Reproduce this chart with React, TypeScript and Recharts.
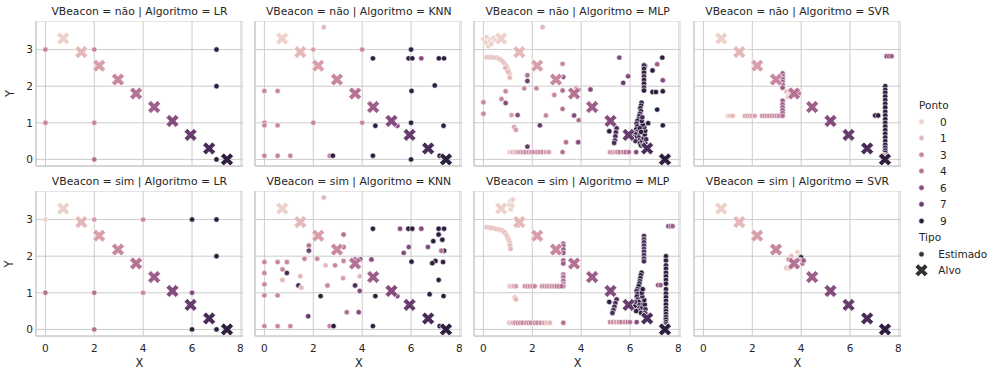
import { ScatterChart, Scatter, XAxis, YAxis, CartesianGrid } from "recharts";

type Pt = [number, number, number]; // x, y, ponto

// Alvo (target) positions, one per Ponto 0..9
const TARGET_X = [0.73, 1.47, 2.2, 2.97, 3.71, 4.45, 5.2, 5.94, 6.7, 7.43];
const TARGET_Y = [3.3, 2.93, 2.56, 2.18, 1.8, 1.43, 1.05, 0.67, 0.3, 0.0];

const X_TICKS = [0, 2, 4, 6, 8];
const Y_TICKS = [0, 1, 2, 3];
const LEGEND_PONTO = [0, 1, 3, 4, 6, 7, 9];

const naoLR: Pt[] = [
  [0, 3, 3], [0, 1, 3], [2, 3, 3], [2, 1, 3], [2, 0, 4], [7, 3, 9], [7, 2, 9], [7, 0, 9],
];

const naoKNN: Pt[] = [
  [2.43, 3.61, 1], [2, 3, 2], [4, 3, 3], [6, 3, 9], [4.44, 2.76, 9], [5.9, 2.76, 9], [6.05, 2.76, 9],
  [6.42, 2.76, 6], [7.14, 2.76, 9], [7.35, 2.76, 9], [0, 1.87, 3], [0.54, 1.87, 3], [6.02, 1.87, 9],
  [6.97, 2.02, 9], [0, 1.0, 3], [0, 0.93, 3], [0.54, 0.93, 3], [2, 1, 3], [4, 1, 3], [4.54, 0.92, 9],
  [5.44, 0.92, 6], [6, 1, 9], [7.33, 0.92, 9], [0, 0.1, 3], [0.54, 0.1, 3], [1.06, 0.1, 3],
  [2.67, 0.1, 3], [2.8, 0.1, 9], [4.44, 0.1, 9], [6, 0, 9], [7.17, 0.1, 9],
];

const naoMLP: Pt[] = [
  [0.0, 3.29, 0], [0.14, 3.34, 0], [0.27, 3.27, 0], [0.41, 3.32, 0], [0.18, 3.21, 0], [0.2, 3.09, 0],
  [0.48, 3.25, 0], [0.08, 3.2, 0], [0.32, 3.15, 0],
  [0.14, 2.79, 1], [0.24, 2.79, 1], [0.34, 2.79, 1], [0.44, 2.78, 1], [0.54, 2.78, 1], [0.63, 2.75, 1],
  [0.72, 2.72, 1], [0.8, 2.67, 1], [0.88, 2.61, 1], [0.94, 2.55, 1], [0.99, 2.48, 1], [1.03, 2.41, 1],
  [1.06, 2.34, 1], [1.08, 2.23, 1], [1.0, 2.4, 1], [0.9, 2.5, 1],
  [2.42, 3.61, 1], [3.24, 2.61, 3], [1.8, 2.3, 4], [1.8, 2.14, 7], [3.27, 2.25, 5], [1.67, 1.94, 3],
  [2.17, 1.94, 3], [2.9, 1.76, 3], [3.24, 1.88, 4], [3.24, 1.38, 4], [3.9, 1.9, 4], [4.38, 1.91, 6],
  [0.91, 1.86, 3], [0.74, 1.65, 3], [0.91, 1.54, 6], [0, 1.56, 3], [0, 1.25, 3], [1.15, 1.21, 2],
  [1.4, 1.21, 6], [2.56, 1.2, 3], [3.71, 1.2, 6], [3.9, 1.07, 4], [2.31, 0.93, 7], [1.26, 0.88, 2],
  [1.33, 0.81, 2], [3.38, 0.47, 4], [3.88, 0.47, 6], [1.8, 0.35, 7], [3.24, 0.2, 4], [3.8, 1.95, 2],
  [1.08, 0.2, 1], [1.15, 0.2, 1], [1.22, 0.2, 2], [1.3, 0.2, 1], [1.38, 0.2, 2], [1.46, 0.2, 3],
  [1.55, 0.2, 3], [1.63, 0.2, 3], [1.72, 0.2, 3], [1.85, 0.2, 3], [1.95, 0.2, 3], [2.05, 0.2, 3],
  [2.2, 0.2, 3], [2.3, 0.2, 3], [2.42, 0.2, 3], [2.55, 0.2, 2], [2.68, 0.2, 2],
  [5.56, 2.78, 6], [7.32, 2.78, 9], [6.61, 2.55, 9], [7.11, 2.6, 5], [6.92, 2.43, 9], [5.92, 2.27, 6],
  [5.72, 2.09, 7],
  [6.57, 2.57, 8], [6.57, 2.47, 9], [6.57, 2.37, 9], [6.57, 2.27, 8], [6.57, 2.17, 9], [6.57, 2.07, 9],
  [6.57, 1.97, 8], [6.57, 1.88, 9],
  [7.34, 2.16, 6], [6.92, 1.84, 9], [7.06, 1.84, 9], [7.34, 1.86, 9], [7.11, 1.36, 9], [6.74, 0.99, 9],
  [7.34, 0.93, 9], [5.15, 0.77, 9],
  [5.45, 0.85, 8], [5.42, 0.74, 8], [5.4, 0.63, 8], [5.38, 0.52, 8], [5.35, 0.45, 8],
  [6.47, 1.55, 9], [6.45, 1.47, 9], [6.42, 1.4, 9], [6.44, 1.32, 9], [6.4, 1.25, 8], [6.38, 1.18, 9],
  [6.35, 1.1, 9], [6.3, 1.05, 9], [6.27, 0.98, 8], [6.3, 0.9, 9], [6.25, 0.82, 9], [6.28, 0.75, 8],
  [6.32, 0.68, 9], [6.35, 0.6, 9], [6.38, 0.52, 8], [6.4, 0.45, 9], [6.45, 0.38, 9], [6.5, 0.5, 9],
  [6.55, 0.58, 8], [6.6, 0.68, 9], [6.62, 0.78, 9], [6.58, 0.88, 8], [6.52, 0.95, 9], [6.48, 1.05, 9],
  [6.5, 1.15, 8], [6.55, 0.4, 9], [6.62, 0.45, 9], [6.66, 0.55, 8], [6.4, 0.85, 9], [6.45, 0.75, 9],
  [6.2, 0.7, 8], [6.18, 0.6, 9], [6.22, 0.5, 8], [6.0, 0.7, 7], [6.08, 0.62, 8],
  [5.18, 0.2, 3], [5.28, 0.2, 3], [5.38, 0.2, 2], [5.48, 0.2, 3], [5.58, 0.2, 4], [5.7, 0.2, 3],
  [5.82, 0.2, 4], [5.95, 0.2, 4], [6.25, 0.2, 6],
];

const naoSVR: Pt[] = [
  [1.0, 1.19, 0], [1.1, 1.19, 1], [1.2, 1.19, 1], [1.7, 1.19, 2], [1.8, 1.19, 2], [1.9, 1.19, 2],
  [2.0, 1.19, 2], [2.1, 1.19, 2], [2.4, 1.19, 3], [2.5, 1.19, 3], [2.6, 1.19, 3], [2.7, 1.19, 3],
  [2.8, 1.19, 3], [2.9, 1.19, 3], [3.0, 1.19, 3], [3.1, 1.19, 3],
  [3.24, 2.35, 5], [3.24, 2.27, 5], [3.24, 2.2, 5], [3.24, 2.12, 5], [3.24, 2.04, 5], [3.24, 1.96, 5],
  [3.24, 1.6, 5], [3.24, 1.5, 5], [3.24, 1.42, 5], [3.24, 1.34, 5], [3.24, 1.26, 5], [3.24, 1.19, 4],
  [3.4, 1.85, 1], [3.5, 1.78, 0], [3.55, 1.88, 2], [3.7, 1.82, 3], [3.8, 1.87, 4], [3.85, 1.75, 5],
  [3.45, 1.7, 0], [3.6, 1.9, 1], [3.9, 1.8, 4], [3.63, 1.75, 9],
  [7.5, 2.82, 6], [7.6, 2.82, 6], [7.7, 2.82, 5],
  [7.44, 2.0, 9], [7.44, 1.9, 9], [7.44, 1.82, 9], [7.44, 1.72, 9], [7.44, 1.62, 9], [7.44, 1.52, 9],
  [7.44, 1.42, 9], [7.44, 1.3, 9], [7.44, 1.2, 9], [7.44, 1.1, 9], [7.44, 1.0, 9], [7.44, 0.9, 9],
  [7.44, 0.8, 9], [7.44, 0.7, 9], [7.44, 0.6, 9], [7.44, 0.5, 9], [7.44, 0.4, 9], [7.44, 0.32, 9],
  [7.44, 0.25, 8], [7.44, 0.18, 9], [7.44, 0.12, 8], [7.44, 0.06, 9], [7.44, 0.02, 9],
  [7.03, 1.2, 9], [7.15, 1.2, 9], [7.3, 0.08, 3], [7.38, 0.12, 2],
];

const simLR: Pt[] = [
  [0, 3, 0], [2, 3, 2], [4, 3, 3], [6, 3, 9], [7, 3, 9], [7, 2, 9], [0, 1, 4], [2, 1, 4], [4, 1, 3],
  [6, 1, 6], [2, 0, 4], [6, 0, 9], [7, 0, 9],
];

const simKNN: Pt[] = [
  [2.43, 3.6, 1], [4.44, 2.75, 9], [5.55, 2.75, 6], [5.89, 2.75, 9], [6.05, 2.75, 9], [6.42, 2.75, 6],
  [7.13, 2.75, 9], [7.35, 2.75, 9], [7.13, 2.59, 9], [3.24, 2.59, 4], [6.91, 2.41, 9], [7.28, 2.45, 9],
  [5.91, 2.25, 6], [6.69, 2.25, 6], [1.82, 2.29, 4], [1.82, 2.15, 7], [3.24, 2.25, 4], [2.98, 2.17, 3],
  [7.35, 2.15, 9], [7.24, 2.15, 4], [5.7, 2.09, 6], [1.64, 1.93, 3], [2.16, 1.93, 3], [0, 1.84, 3],
  [0.54, 1.84, 3], [0.92, 1.84, 3], [3.24, 1.87, 3], [3.71, 1.91, 5], [3.92, 1.91, 7], [4.38, 1.91, 6],
  [6.02, 1.85, 9], [7.0, 1.87, 9], [7.31, 1.84, 9], [6.87, 1.81, 9], [2.89, 1.75, 3], [2.5, 1.75, 1],
  [0.74, 1.64, 3], [0.92, 1.54, 8], [0, 1.54, 3], [1.47, 1.45, 1], [3.9, 1.45, 1], [0.74, 1.35, 1],
  [3.22, 1.4, 2], [7.13, 1.35, 9], [0, 1.23, 3], [1.39, 1.2, 8], [1.51, 1.14, 1], [2.58, 1.2, 3],
  [3.71, 1.2, 8], [3.9, 1.05, 6], [0, 0.93, 3], [0.54, 0.93, 3], [2.3, 0.91, 9], [4.54, 0.91, 9],
  [5.44, 0.91, 6], [6.76, 0.96, 9], [7.33, 0.91, 9], [3.37, 0.47, 4], [3.86, 0.47, 6], [1.79, 0.36, 7],
  [0, 0.09, 3], [0.54, 0.09, 3], [1.06, 0.09, 3], [2.67, 0.09, 3], [2.83, 0.09, 9], [4.44, 0.09, 9],
  [7.17, 0.09, 9],
];

const simMLP: Pt[] = [
  [1.1, 3.5, 0], [1.15, 3.45, 0], [1.2, 3.55, 0], [1.1, 3.35, 0], [1.12, 3.28, 0], [1.05, 3.4, 0],
  [1.18, 3.38, 0], [1.36, 3.0, 4], [1.5, 2.91, 4], [1.42, 2.85, 3],
  [0.14, 2.79, 1], [0.24, 2.78, 1], [0.33, 2.77, 1], [0.44, 2.76, 1], [0.54, 2.74, 1], [0.64, 2.73, 1],
  [0.74, 2.71, 1], [0.82, 2.68, 1], [0.88, 2.64, 1], [0.94, 2.58, 1], [0.98, 2.53, 1], [1.02, 2.47, 1],
  [1.06, 2.41, 1], [1.08, 2.35, 1], [1.09, 2.29, 1], [1.11, 2.2, 1],
  [3.27, 2.34, 5], [3.27, 2.28, 5], [3.27, 2.18, 5], [3.27, 2.09, 5], [3.27, 1.88, 5], [3.27, 1.8, 5],
  [3.27, 1.5, 4], [3.27, 1.43, 4], [3.27, 1.33, 4], [3.27, 1.24, 4], [3.27, 1.18, 4],
  [1.08, 1.18, 1], [1.16, 1.18, 1], [1.25, 1.18, 2], [1.33, 1.18, 2], [1.7, 1.18, 3], [1.8, 1.18, 3],
  [1.9, 1.18, 3], [2.0, 1.18, 3], [2.1, 1.18, 3], [2.4, 1.18, 3], [2.5, 1.18, 3], [2.6, 1.18, 3],
  [2.7, 1.18, 3], [2.8, 1.18, 3], [2.9, 1.18, 3], [3.0, 1.18, 4], [3.1, 1.18, 4], [3.2, 1.18, 4],
  [1.29, 0.87, 1], [1.33, 0.82, 1],
  [1.06, 0.18, 1], [1.14, 0.18, 1], [1.22, 0.18, 2], [1.3, 0.18, 3], [1.4, 0.18, 3], [1.5, 0.18, 3],
  [1.6, 0.18, 3], [1.75, 0.18, 3], [1.85, 0.18, 3], [1.95, 0.18, 3], [2.1, 0.18, 3], [2.2, 0.18, 3],
  [2.35, 0.18, 3], [2.48, 0.18, 2], [2.6, 0.18, 1], [2.72, 0.18, 1], [3.27, 0.18, 4],
  [7.57, 2.82, 6], [7.67, 2.82, 6], [7.74, 2.82, 5],
  [6.57, 2.55, 8], [6.57, 2.46, 8], [6.57, 2.38, 8], [6.57, 2.29, 8], [6.57, 2.2, 8], [6.57, 2.12, 8],
  [6.57, 2.03, 8], [6.57, 1.94, 8], [6.57, 1.86, 8],
  [7.47, 2.0, 9], [7.47, 1.88, 9], [7.47, 1.75, 9], [7.47, 1.66, 9], [7.47, 1.55, 9], [7.47, 1.45, 9],
  [7.47, 1.35, 9], [7.47, 1.25, 9], [7.47, 1.1, 9], [7.47, 0.98, 9], [7.47, 0.88, 9], [7.47, 0.78, 9],
  [7.47, 0.68, 9], [7.47, 0.58, 9], [7.47, 0.5, 9], [7.47, 0.42, 9], [7.47, 0.34, 9], [7.47, 0.27, 9],
  [7.47, 0.2, 9], [7.47, 0.14, 9], [7.47, 0.08, 9], [7.47, 0.04, 9],
  [7.15, 1.21, 6], [7.25, 1.21, 5],
  [6.47, 1.55, 9], [6.44, 1.48, 9], [6.42, 1.4, 9], [6.4, 1.32, 8], [6.38, 1.25, 9], [6.35, 1.18, 9],
  [6.3, 1.1, 9], [6.27, 1.05, 8], [6.3, 0.97, 9], [6.28, 0.9, 9], [6.32, 0.82, 8], [6.35, 0.75, 9],
  [6.38, 0.66, 9], [6.38, 0.59, 8], [6.42, 0.52, 9], [6.45, 0.45, 9], [6.5, 0.6, 8], [6.55, 0.7, 9],
  [6.6, 0.68, 9], [6.63, 0.55, 8], [6.66, 0.41, 9], [6.58, 0.8, 9], [6.5, 0.9, 8], [6.48, 1.0, 9],
  [6.52, 1.1, 9], [6.2, 0.75, 8], [6.18, 0.62, 9], [6.25, 0.5, 9], [6.6, 0.45, 8], [6.0, 0.7, 7],
  [5.15, 0.75, 9], [5.45, 0.82, 8], [5.4, 0.72, 8], [5.36, 0.62, 8], [5.32, 0.53, 8], [5.28, 0.45, 8],
  [5.18, 0.2, 3], [5.3, 0.2, 3], [5.42, 0.2, 2], [5.55, 0.2, 3], [5.65, 0.2, 4], [5.78, 0.2, 3],
  [5.9, 0.2, 4], [6.0, 0.2, 4], [6.27, 0.2, 6], [7.3, 0.1, 2], [7.35, 0.06, 3],
];

const simSVR: Pt[] = [
  [3.99, 1.97, 9], [3.58, 1.71, 9], [3.85, 2.11, 0], [3.74, 1.86, 4], [4.05, 1.8, 4], [3.49, 1.91, 3],
  [3.4, 1.68, 1], [3.5, 1.66, 0], [3.82, 1.72, 3], [3.6, 2.0, 1], [3.95, 1.9, 2], [3.68, 1.8, 5],
  [4.1, 1.88, 5],
];

const ROWS = ["não", "sim"];
const COLS = ["LR", "KNN", "MLP", "SVR"];
const PANEL_DATA: Pt[][][] = [
  [naoLR, naoKNN, naoMLP, naoSVR],
  [simLR, simKNN, simMLP, simSVR],
];

// layout
const PLOT_W = 207;
const PLOT_H = 145;
const COL_LEFT = [35.9, 255.3, 474.1, 693.9];
const ROW_TOP = [21, 191.4];
const Y_W = 30;
const X_H = 24;
const X_DOMAIN: [number, number] = [-0.385, 8.085];
const Y_DOMAIN: [number, number] = [-0.18, 3.78];
const GRID = "#cccccc";
const INK = "#262626";
const FONT = "'DejaVu Sans', sans-serif";

// seaborn default "ch:" cubehelix colormap (light -> dark)
function hue(p: number) {
  const lam = 0.85 - 0.7 * (p / 9);
  const a = (0.8 * lam * (1 - lam)) / 2;
  const phi = 2 * Math.PI * 0.4 * lam;
  const c = Math.cos(phi);
  const s = Math.sin(phi);
  const r = lam + a * (-0.14861 * c + 1.78277 * s);
  const g = lam + a * (-0.29227 * c - 0.90649 * s);
  const b = lam + a * (1.97294 * c);
  const h = (v: number) =>
    Math.round(Math.min(1, Math.max(0, v)) * 255).toString(16).padStart(2, "0");
  return `#${h(r)}${h(g)}${h(b)}`;
}

const X_VERTS = [
  [-1, -2], [0, -1], [1, -2], [2, -1], [1, 0], [2, 1], [1, 2], [0, 1], [-1, 2], [-2, 1], [-1, 0], [-2, -1],
];

function xPath(cx: number, cy: number, size: number) {
  return (
    X_VERTS.map(([a, b], i) => `${i ? "L" : "M"}${cx + (a * size) / 4},${cy - (b * size) / 4}`).join("") + "Z"
  );
}

function EstDot(props: any) {
  const { cx, cy, payload } = props;
  if (cx == null || cy == null) return <g />;
  return <circle cx={cx} cy={cy} r={2.7} fill={hue(payload.p)} stroke="#ffffff" strokeWidth={0.6} />;
}

function TargetMark(props: any) {
  const { cx, cy, payload } = props;
  if (cx == null || cy == null) return <g />;
  return <path d={xPath(cx, cy, 13)} fill={hue(payload.p)} stroke="#ffffff" strokeWidth={0.8} />;
}

// keeps the ticks (and so the grid) but draws no label
const NoTick = () => <g />;

const targets = TARGET_X.map((x, i) => ({ x, y: TARGET_Y[i], p: i }));

function Panel({ row, col }: { row: number; col: number }) {
  const est = PANEL_DATA[row][col].map(([x, y, p]) => ({ x, y, p }));
  const tickStyle = { fontSize: 10.5, fill: INK };
  return (
    <div style={{ position: "absolute", left: COL_LEFT[col] - Y_W, top: ROW_TOP[row] }}>
      <ScatterChart width={Y_W + PLOT_W} height={PLOT_H + X_H} margin={{ top: 0, right: 0, bottom: 0, left: 0 }}>
        <CartesianGrid stroke={GRID} strokeWidth={1} />
        <XAxis
          type="number"
          dataKey="x"
          domain={X_DOMAIN}
          ticks={X_TICKS}
          allowDataOverflow
          height={X_H}
          axisLine={{ stroke: GRID, strokeWidth: 1.25 }}
          tickLine={false}
          tickSize={0}
          tickMargin={9}
          tick={row === 1 ? tickStyle : NoTick}
        />
        <YAxis
          type="number"
          dataKey="y"
          domain={Y_DOMAIN}
          ticks={Y_TICKS}
          allowDataOverflow
          width={Y_W}
          axisLine={{ stroke: GRID, strokeWidth: 1.25 }}
          tickLine={false}
          tickSize={0}
          tickMargin={3}
          tick={col === 0 ? tickStyle : NoTick}
        />
        <Scatter data={est} shape={EstDot} isAnimationActive={false} />
        <Scatter data={targets} shape={TargetMark} isAnimationActive={false} />
      </ScatterChart>
    </div>
  );
}

export default function App() {
  const legendRows = [121.7, 138, 154.7, 171, 187.7, 204.3, 221];
  return (
    <div
      style={{
        position: "absolute",
        left: 0,
        top: 0,
        width: 997,
        height: 376,
        background: "#ffffff",
        fontFamily: FONT,
        overflow: "hidden",
      }}
    >
      {ROWS.map((_, r) => COLS.map((__, c) => <Panel key={`${r}-${c}`} row={r} col={c} />))}
      <svg width={997} height={376} style={{ position: "absolute", left: 0, top: 0, pointerEvents: "none" }}>
        <g fontFamily={FONT} fill={INK}>
          {ROWS.map((rv, r) =>
            COLS.map((cv, c) => (
              <text
                key={`t-${r}-${c}`}
                x={COL_LEFT[c] + PLOT_W / 2}
                y={r === 0 ? 14.7 : 185.2}
                fontSize={10.8}
                textAnchor="middle"
              >
                {`VBeacon = ${rv} | Algoritmo = ${cv}`}
              </text>
            ))
          )}
          {ROW_TOP.map((t, r) => (
            <text
              key={`yl-${r}`}
              x={13.5}
              y={t + PLOT_H / 2}
              fontSize={11.4}
              textAnchor="middle"
              transform={`rotate(-90, 13.5, ${t + PLOT_H / 2})`}
            >
              Y
            </text>
          ))}
          {COL_LEFT.map((l, c) => (
            <text key={`xl-${c}`} x={l + PLOT_W / 2} y={366.8} fontSize={11.4} textAnchor="middle">
              X
            </text>
          ))}
          <text x={919} y={108.5} fontSize={10.5}>
            Ponto
          </text>
          {LEGEND_PONTO.map((p, i) => (
            <g key={`lg-${p}`}>
              <circle cx={921.5} cy={legendRows[i]} r={2.7} fill={hue(p)} stroke="#ffffff" strokeWidth={0.6} />
              <text x={940} y={legendRows[i] + 3.8} fontSize={10.5}>
                {p}
              </text>
            </g>
          ))}
          <text x={919} y={240.5} fontSize={10.5}>
            Tipo
          </text>
          <circle cx={921.5} cy={254.3} r={2.7} fill="#333333" stroke="#ffffff" strokeWidth={0.6} />
          <text x={938.3} y={258.1} fontSize={10.5}>
            Estimado
          </text>
          <path d={xPath(921.5, 270.3, 13)} fill="#333333" stroke="#ffffff" strokeWidth={0.8} />
          <text x={938.3} y={274.1} fontSize={10.5}>
            Alvo
          </text>
        </g>
      </svg>
    </div>
  );
}
